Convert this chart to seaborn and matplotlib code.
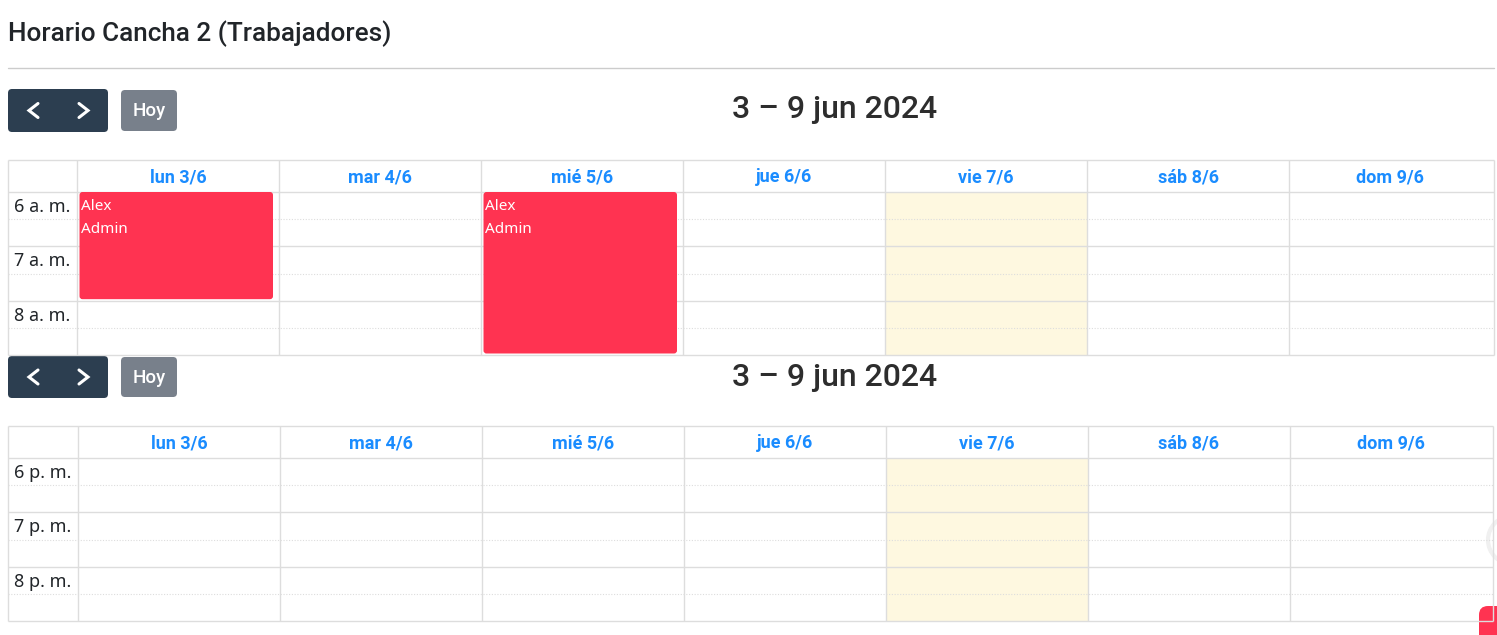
import matplotlib
matplotlib.use("Agg")
import matplotlib.pyplot as plt
from matplotlib.patches import FancyBboxPatch, Rectangle, Circle
import seaborn as sns

sns.set_theme(style="white")
plt.rcParams['font.family'] = ['Roboto', 'DejaVu Sans']

# --- data ---
page_title = 'Horario Cancha 2 (Trabajadores)'
week_title = '3 – 9 jun 2024'
today_label = 'Hoy'
day_labels = ['lun 3/6', 'mar 4/6', 'mié 5/6', 'jue 6/6', 'vie 7/6', 'sáb 8/6', 'dom 9/6']
am_hours = ['6 a. m.', '7 a. m.', '8 a. m.']
pm_hours = ['6 p. m.', '7 p. m.', '8 p. m.']
am_first = 6
pm_first = 18
today_index = 4

event_day = [0, 2]
event_start = [6.0, 6.0]
event_end = [8.0, 9.0]
event_title = ['Alex', 'Alex']
event_user = ['Admin', 'Admin']

# --- look ---
W, H = 1497, 635
HEAD_PX = 32
DAY_PX = 202
GRID = '#dddddd'
BLUE = '#1a8cff'
RED = '#ff3351'
TEXT = '#212529'

fig = plt.figure(figsize=(W / 100, H / 100), dpi=100)
fig.patch.set_facecolor('white')

bg = fig.add_axes([0, 0, 1, 1])
bg.set_xlim(0, W)
bg.set_ylim(H, 0)
bg.axis('off')

bg.text(8, 34, page_title, fontsize=18.8, color=TEXT, va='center', ha='left',
        fontweight='medium')
bg.plot([8, 1494], [68, 68], color='#cccccc', lw=1)


def toolbar(y0, y1, title_y):
    bg.add_patch(FancyBboxPatch((8, y0), 100, y1 - y0,
                                boxstyle='round,pad=0,rounding_size=4',
                                fc='#2c3e50', ec='none'))
    mid = (y0 + y1) / 2
    bg.plot([38, 29, 38], [mid - 7, mid, mid + 7], color='white', lw=2.2,
            solid_capstyle='round', solid_joinstyle='miter')
    bg.plot([79, 88, 79], [mid - 7, mid, mid + 7], color='white', lw=2.2,
            solid_capstyle='round', solid_joinstyle='miter')
    bg.add_patch(FancyBboxPatch((121, y0 + 1), 56, y1 - y0 - 2,
                                boxstyle='round,pad=0,rounding_size=4',
                                fc='#78808b', ec='none'))
    bg.text(149, mid + 1, today_label, fontsize=13.5, color='white',
            ha='center', va='center', fontweight='medium')
    bg.text(835, title_y, week_title, fontsize=23, color='#2d2d2d',
            ha='center', va='center', fontweight='medium')


def calendar(left, top, right, bottom, time_w, hours, first_hour):
    n = len(hours)
    day_w = DAY_PX
    hour_px = (bottom - top - HEAD_PX) / n
    tc = time_w / day_w
    hd = HEAD_PX / hour_px
    xmax = (right - left - time_w) / day_w
    last = first_hour + n
    ax = fig.add_axes([left / W, 1 - bottom / H, (right - left) / W, (bottom - top) / H])
    ax.set_xlim(-tc, xmax)
    ax.set_ylim(last, first_hour - hd)
    ax.axis('off')
    ax.patch.set_alpha(0)

    ax.add_patch(Rectangle((today_index, first_hour), 1, n, fc='#fef8e0', ec='none', zorder=0))

    starts = [first_hour + i for i in range(n)]
    lines = [
        ax.hlines([first_hour - hd] + starts + [last], -tc, xmax, color=GRID, lw=1),
        ax.hlines([h + 0.5 for h in starts], -tc, xmax, color=GRID, lw=0.8,
                  linestyles=(0, (1, 1.5))),
        ax.vlines([-tc] + list(range(7)) + [xmax], first_hour - hd, last, color=GRID, lw=1),
    ]
    for lc in lines:
        lc.set_clip_on(False)

    for i, lab in enumerate(day_labels):
        ax.text(i + 0.5, first_hour - hd / 2 + 1 / hour_px, lab, fontsize=13, fontweight='bold',
                color=BLUE, ha='center', va='center')
    for h, lab in zip(starts, hours):
        ax.text(-7 / day_w, h + 15 / hour_px, lab, fontsize=13, color=TEXT,
                ha='right', va='center', family=['Noto Sans', 'DejaVu Sans'])

    for d, s, e, t, u in zip(event_day, event_start, event_end, event_title, event_user):
        if s < first_hour or s >= last:
            continue
        e = min(e, last)
        ax.add_patch(FancyBboxPatch((d + 2.5 / day_w, s), 1 - 8.5 / day_w, e - s - 1.5 / hour_px,
                                    boxstyle='round,pad=0,rounding_size=%f' % (3 / day_w),
                                    mutation_aspect=day_w / hour_px,
                                    fc=RED, ec='none', zorder=3))
        ax.text(d + 4 / day_w, s + 14.5 / hour_px, t, fontsize=11, color='white',
                ha='left', va='center', zorder=4, family=['Noto Sans', 'DejaVu Sans'])
        ax.text(d + 4 / day_w, s + 37.5 / hour_px, u, fontsize=11, color='white',
                ha='left', va='center', zorder=4, family=['Noto Sans', 'DejaVu Sans'])
    return ax


toolbar(89, 132, 110)
calendar(8, 160, 1494, 355, 69, am_hours, am_first)
toolbar(356, 398, 377)
calendar(8, 426, 1493, 621, 70, pm_hours, pm_first)

# floating widgets at the right edge
bg.add_patch(Circle((1512, 540), 24, fc='white', ec='#f0f0f0', lw=3, zorder=5))
bg.add_patch(FancyBboxPatch((1479, 606), 60, 60, boxstyle='round,pad=0,rounding_size=9',
                            fc=RED, ec='none', zorder=5))

fig.savefig('out.png', dpi=100, facecolor='white')
